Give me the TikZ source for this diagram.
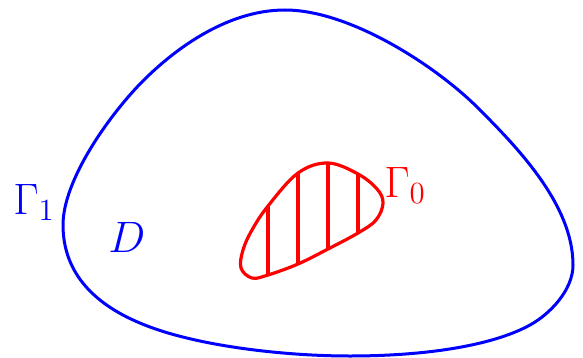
\RequirePackage{fix-cm}
\documentclass[tikz,border=0pt]{standalone}
\begin{document}
\begin{tikzpicture}[x=0.5pt,y=-0.5pt,
  outer/.style={draw=blue,line width=1.5pt},
  inner/.style={draw=red,line width=1.6pt},
  lbl/.style={inner sep=0pt,font=\fontsize{22}{26}\selectfont}]
\useasboundingbox (0,0) rectangle (583,358);
% outer boundary Gamma_1
\draw[outer] (285,10)
  .. controls (350,10) and (436,66) .. (478,108)
  .. controls (518,148) and (573,205) .. (573,265)
  .. controls (573,290) and (550,314) .. (530,325)
  .. controls (490,347) and (420,356) .. (350,356)
  .. controls (283,356) and (201,346) .. (150,327)
  .. controls (112,313) and (63,285) .. (63,225)
  .. controls (63,180) and (109,116) .. (140,84)
  .. controls (171,52) and (225,10) .. (285,10) -- cycle;
% inner boundary Gamma_0 with hatching
\def\innerpath{plot[smooth cycle,tension=0.6] coordinates {
 (328,163) (358,174) (377,189) (383,203) (376,220) (358,233) (328,249)
 (298,264) (268,275) (252,278) (241,268) (243,250) (252,230) (268,206) (298,173)}}
\begin{scope}
\clip \innerpath;
\foreach \xx in {268,298,328,358}
  \draw[red,line width=1.6pt] (\xx,140) -- (\xx,300);
\end{scope}
\draw[inner] \innerpath;
\node[lbl,text=red,anchor=base west] (g0) at (384,197) {$\Gamma_0$};
\node[lbl,text=blue,anchor=base west] (g1) at (13,214) {$\Gamma_1$};
\node[lbl,text=blue,anchor=base west] (d) at (108,252) {$D$};
\end{tikzpicture}
\end{document}
